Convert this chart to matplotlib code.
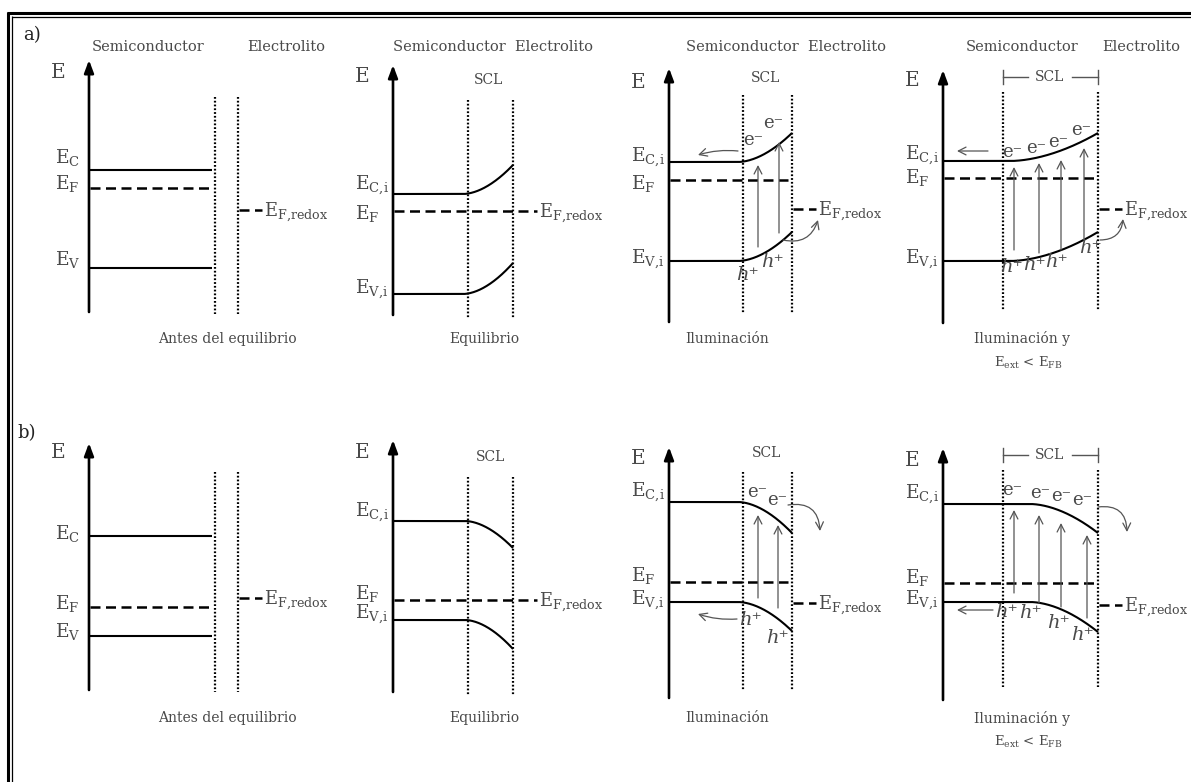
import numpy as np
import matplotlib
matplotlib.use('Agg')
import matplotlib.pyplot as plt

plt.rcParams['font.family'] = ['DejaVu Serif', 'DejaVu Sans']
plt.rcParams['mathtext.fontset'] = 'dejavuserif'

# ---------------- data (band energies, pixel units, y down) -------------
captions_a = ['Antes del equilibrio', 'Equilibrio', 'Iluminación', 'Iluminación y']
captions_b = ['Antes del equilibrio', 'Equilibrio', 'Iluminación', 'Iluminación y']

# row a (n-type)
EC_bulk_a = [170, 194, 162, 161]
EC_surf_a = [170, 165, 133, 133]
EV_bulk_a = [268, 294, 261, 261]
EV_surf_a = [268, 263, 232, 232]
EF_a = [188, 211, 180, 178]
EFredox_a = [210, 211, 209, 209]
# row b (p-type)
EC_bulk_b = [536, 521, 502, 504]
EC_surf_b = [536, 548, 533, 533]
EV_bulk_b = [636, 620, 602, 602]
EV_surf_b = [636, 649, 631, 632]
EF_b = [607, 600, 582, 583]
EFredox_b = [598, 600, 603, 605]

# photo-excitation arrows (x, bottom, top)
exc_a3_x = [758, 779]; exc_a3_lo = [247, 233]; exc_a3_hi = [165, 142]
exc_a4_x = [1014, 1039, 1061, 1084]; exc_a4_lo = [250, 253, 250, 240]; exc_a4_hi = [167, 163, 160, 148]
exc_b3_x = [758, 778]; exc_b3_lo = [598, 608]; exc_b3_hi = [515, 525]
exc_b4_x = [1014, 1039, 1061, 1087]; exc_b4_lo = [593, 603, 607, 618]; exc_b4_hi = [510, 515, 523, 535]

# carriers
e_a3 = [(753, 140), (773, 123)]
e_a4 = [(1012, 152), (1036, 148), (1058, 142), (1081, 130)]
e_b3 = [(757, 492), (777, 500)]
e_b4 = [(1012, 490), (1040, 493), (1061, 496), (1082, 500)]
h_a3 = [(747, 275), (772, 262)]
h_a4 = [(1011, 267), (1034, 265), (1056, 262), (1090, 248)]
h_b3 = [(750, 620), (777, 638)]
h_b4 = [(1006, 612), (1030, 613), (1058, 623), (1082, 635)]

# ---------------- layout -------------
axis_x = [89, 393, 669, 943]
dot1_x = [215, 468, 743, 1003]
dot2_x = [238, 513, 792, 1098]
bend_a = [None, 463, 738, 1010]
bend_b = [None, 465, 738, 1030]
ax_top_a = [60, 65, 68, 70];   ax_bot_a = [312, 315, 322, 323]
ax_top_b = [443, 440, 447, 448]; ax_bot_b = [690, 692, 698, 700]
dot_top_a = [97, 100, 95, 92];  dot_bot_a = [314, 318, 313, 310]
dot_top_b = [472, 477, 472, 470]; dot_bot_b = [692, 695, 690, 687]

W, H = 1191, 782
fig = plt.figure(figsize=(W / 100, H / 100), dpi=100)
ax = fig.add_axes([0, 0, 1, 1])
ax.set_xlim(0, W)
ax.set_ylim(H, 0)
ax.axis('off')

TXT = '#4a4a4a'
GR = '#555555'

# frame (double line top and left)
ax.plot([7, W], [13, 13], color='k', lw=2.2, solid_capstyle='butt')
ax.plot([11.5, W], [16.8, 16.8], color='k', lw=0.9, solid_capstyle='butt')
ax.plot([8.3, 8.3], [12, H], color='k', lw=2.2, solid_capstyle='butt')
ax.plot([11.8, 11.8], [16.3, H], color='k', lw=0.9, solid_capstyle='butt')

ax.text(32, 35, 'a)', fontsize=13, color='#222222', ha='center', va='center')
ax.text(27, 433, 'b)', fontsize=13, color='#222222', ha='center', va='center')


def vaxis(x, top, bot):
    ax.annotate('', xy=(x, top), xytext=(x, bot),
                arrowprops=dict(arrowstyle='-|>,head_length=0.75,head_width=0.28',
                                lw=1.9, color='k', shrinkA=0, shrinkB=0))


def dotted(x, top, bot):
    ax.plot([x, x], [top, bot], color='k', lw=1.6, linestyle=(0, (0.8, 0.9)))


def band(x0, xb, xs, yb, ys):
    x = np.linspace(x0, xs, 300)
    if xb is None:
        y = np.full_like(x, yb)
    else:
        t = np.clip((x - xb) / (xs - xb), 0, 1)
        y = yb + (ys - yb) * t ** 1.8
    ax.plot(x, y, color='k', lw=1.5, solid_capstyle='butt')


def dashed(x0, x1, y):
    ax.plot([x0, x1], [y, y], color='k', lw=1.8, linestyle=(0, (4, 2.2)))


def label(x, yc, s, size=13.5):
    ax.text(x, yc + 6.5, s, fontsize=size, color=TXT, ha='left', va='baseline')


def thin_arrow(x0, y0, x1, y1, rad=0.0):
    ax.annotate('', xy=(x1, y1), xytext=(x0, y0),
                arrowprops=dict(arrowstyle='->,head_length=0.55,head_width=0.28',
                                lw=0.9, color=GR, shrinkA=0, shrinkB=0,
                                connectionstyle='arc3,rad=%g' % rad))


rows = [
    dict(EC_b=EC_bulk_a, EC_s=EC_surf_a, EV_b=EV_bulk_a, EV_s=EV_surf_a, EF=EF_a, EFr=EFredox_a,
         bend=bend_a, at=ax_top_a, ab=ax_bot_a, dt=dot_top_a, db=dot_bot_a, cap=captions_a,
         capy=339, Ey=[72, 77, 82, 80],
         lab=[(157, 182, 258), (183, 212, 287), (155, 182, 257), (153, 177, 257)]),
    dict(EC_b=EC_bulk_b, EC_s=EC_surf_b, EV_b=EV_bulk_b, EV_s=EV_surf_b, EF=EF_b, EFr=EFredox_b,
         bend=bend_b, at=ax_top_b, ab=ax_bot_b, dt=dot_top_b, db=dot_bot_b, cap=captions_b,
         capy=718, Ey=[452, 452, 458, 460],
         lab=[(532, 602, 630), (510, 593, 612), (490, 575, 598), (492, 577, 598)]),
]

for r, R in enumerate(rows):
    for i in range(4):
        xa = axis_x[i]
        vaxis(xa, R['at'][i], R['ab'][i])
        dotted(dot1_x[i], R['dt'][i], R['db'][i])
        dotted(dot2_x[i], R['dt'][i], R['db'][i])
        xs = dot1_x[i] - 3 if i == 0 else dot2_x[i]
        band(xa + 1, R['bend'][i], xs, R['EC_b'][i], R['EC_s'][i])
        band(xa + 1, R['bend'][i], xs, R['EV_b'][i], R['EV_s'][i])
        # Fermi levels
        if i == 0:
            dashed(xa + 1, dot1_x[i] - 5, R['EF'][i])
            dashed(dot2_x[i] + 1, dot2_x[i] + 24, R['EFr'][i])
        elif i == 1:
            dashed(xa + 1, dot2_x[i] + 24, R['EF'][i])
        else:
            dashed(xa + 1, dot2_x[i] - 4, R['EF'][i])
            dashed(dot2_x[i] + 1, dot2_x[i] + 24, R['EFr'][i])
        rx = dot2_x[i] + 26
        ax.text(rx, R['EFr'][i] + 6.5, r'E$_{\mathrm{F{,}redox}}$', fontsize=13, color=TXT,
                ha='left', va='baseline')
        # labels
        lx = xa - 34 if i == 0 else xa - 38
        sfx = '' if i == 0 else '{,}i'
        lc, lf, lv = R['lab'][i]
        label(lx, lc, r'E$_{\mathrm{C%s}}$' % sfx)
        label(lx, lf, r'E$_{\mathrm{F}}$')
        label(lx, lv, r'E$_{\mathrm{V%s}}$' % sfx)
        ax.text(xa - 31, R['Ey'][i], 'E', fontsize=14.5, color=TXT, ha='center', va='center')
        # captions
        cx = [227, 484, 727, 1022][i]
        ax.text(cx, R['capy'], R['cap'][i], fontsize=10, color=TXT, ha='center', va='center')
        if i == 3:
            ax.text(1028, R['capy'] + 24, r'E$_{\mathrm{ext}}$ < E$_{\mathrm{FB}}$', fontsize=9.5,
                    color=TXT, ha='center', va='center')

# headers (row a only)
ax.text(148, 47, 'Semiconductor', fontsize=10.5, color=TXT, ha='center', va='center')
ax.text(286, 47, 'Electrolito', fontsize=10.5, color=TXT, ha='center', va='center')
ax.text(493, 47, 'Semiconductor  Electrolito', fontsize=10.5, color=TXT, ha='center', va='center')
ax.text(786, 47, 'Semiconductor  Electrolito', fontsize=10.5, color=TXT, ha='center', va='center')
ax.text(1022, 47, 'Semiconductor', fontsize=10.5, color=TXT, ha='center', va='center')
ax.text(1141, 47, 'Electrolito', fontsize=10.5, color=TXT, ha='center', va='center')

# SCL labels
for x, y in [(489, 80), (766, 78), (491, 457), (767, 453)]:
    ax.text(x, y, 'SCL', fontsize=10, color=TXT, ha='center', va='center')
for y in [77, 455]:
    ax.text(1050, y, 'SCL', fontsize=10, color=TXT, ha='center', va='center')
    ax.plot([1003, 1003], [y - 7, y + 7], color=GR, lw=1.0)
    ax.plot([1098, 1098], [y - 7, y + 7], color=GR, lw=1.0)
    ax.plot([1003, 1028], [y, y], color=GR, lw=1.0)
    ax.plot([1072, 1098], [y, y], color=GR, lw=1.0)

# excitation arrows
for xs_, lo, hi in [(exc_a3_x, exc_a3_lo, exc_a3_hi), (exc_a4_x, exc_a4_lo, exc_a4_hi),
                    (exc_b3_x, exc_b3_lo, exc_b3_hi), (exc_b4_x, exc_b4_lo, exc_b4_hi)]:
    for x, y0, y1 in zip(xs_, lo, hi):
        thin_arrow(x, y0, x, y1)

# carriers
for pts in [e_a3, e_a4, e_b3, e_b4]:
    for x, y in pts:
        ax.text(x, y, 'e\u207b', fontsize=13, color=TXT, ha='center', va='center')
for pts in [h_a3, h_a4, h_b3, h_b4]:
    for x, y in pts:
        ax.text(x, y, 'h\u207a', fontsize=14, fontstyle='italic', color=TXT,
                ha='center', va='center')

# transfer arrows
thin_arrow(738, 151, 698, 155, rad=0.1)
thin_arrow(988, 151, 957, 151)
thin_arrow(737, 619, 698, 614, rad=-0.1)
thin_arrow(993, 610, 957, 610)
thin_arrow(783, 240, 818, 220, rad=0.45)
thin_arrow(1100, 240, 1123, 219, rad=0.45)
thin_arrow(788, 505, 820, 531, rad=-0.55)
thin_arrow(1098, 507, 1127, 532, rad=-0.55)

fig.savefig('out.png', dpi=100, facecolor='white')
